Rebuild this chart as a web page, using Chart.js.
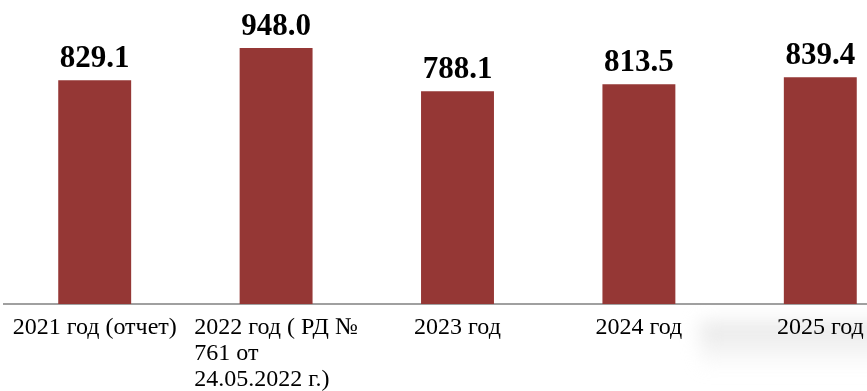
<!DOCTYPE html>
<html>
<head>
<meta charset="utf-8">
<title>Показатели 2021–2025</title>
<style>
  html, body { margin: 0; padding: 0; background: #fff; overflow: hidden; }
  #wrap { position: relative; width: 867px; height: 391px; overflow: hidden; }
  #shade {
    position: absolute; left: 700px; top: 322px; width: 200px; height: 48px;
    background: linear-gradient(rgba(225,225,225,0.85), rgba(255,255,255,0));
    filter: blur(9px);
  }
  canvas { position: absolute; left: 0; top: 0; }
</style>
</head>
<body>
<div id="wrap">
  <div id="shade"></div>
  <canvas id="chart" width="915" height="391"></canvas>
</div>

<script src="https://cdn.jsdelivr.net/npm/chart.js"></script>
<script>
  // данные
  const categories = [
    ['2021 год (отчет)'],
    ['2022 год ( РД №', '761 от', '24.05.2022 г.)'],
    ['2023 год'],
    ['2024 год'],
    ['2025 год']
  ];
  const values = [829.1, 948.0, 788.1, 813.5, 839.4];
  const yMin = 0;
  const yMax = 1000;

  const barColor = '#953735';
  const serif = '"Liberation Serif", "Times New Roman", serif';

  // подписи значений над столбцами
  const valueLabels = {
    id: 'valueLabels',
    afterDatasetsDraw(chart) {
      const ctx = chart.ctx;
      const meta = chart.getDatasetMeta(0);
      ctx.save();
      ctx.font = 'bold 31px ' + serif;
      ctx.fillStyle = '#000';
      ctx.textAlign = 'center';
      ctx.textBaseline = 'alphabetic';
      meta.data.forEach((bar, i) => {
        ctx.fillText(values[i].toFixed(1), bar.x, bar.y - 13);
      });
      ctx.restore();
    }
  };

  // подписи категорий: блок по центру, строки выровнены влево
  const categoryLabels = {
    id: 'categoryLabels',
    afterDraw(chart) {
      const ctx = chart.ctx;
      const xs = chart.scales.x;
      ctx.save();
      ctx.font = '24px ' + serif;
      ctx.fillStyle = '#000';
      ctx.textAlign = 'left';
      ctx.textBaseline = 'alphabetic';
      categories.forEach((lines, i) => {
        const cx = xs.getPixelForTick(i);
        const w = Math.max(...lines.map(l => ctx.measureText(l).width));
        lines.forEach((l, j) => {
          ctx.fillText(l, cx - w / 2, xs.top + 30 + j * 26);
        });
      });
      ctx.restore();
    }
  };

  new Chart(document.getElementById('chart'), {
    type: 'bar',
    data: {
      labels: categories,
      datasets: [{
        data: values,
        backgroundColor: barColor,
        borderWidth: 0,
        categoryPercentage: 1,
        barPercentage: 0.402
      }]
    },
    options: {
      responsive: false,
      animation: false,
      layout: { padding: { top: 34, left: 4, right: 4, bottom: 0 } },
      plugins: {
        legend: { display: false },
        tooltip: { enabled: false }
      },
      scales: {
        x: {
          grid: { display: false },
          border: { display: true, color: '#a0a0a0', width: 2 },
          ticks: { display: false },
          afterFit(scale) { scale.height = 87; }
        },
        y: {
          display: false,
          min: yMin,
          max: yMax
        }
      }
    },
    plugins: [valueLabels, categoryLabels]
  });
</script>
</body>
</html>
